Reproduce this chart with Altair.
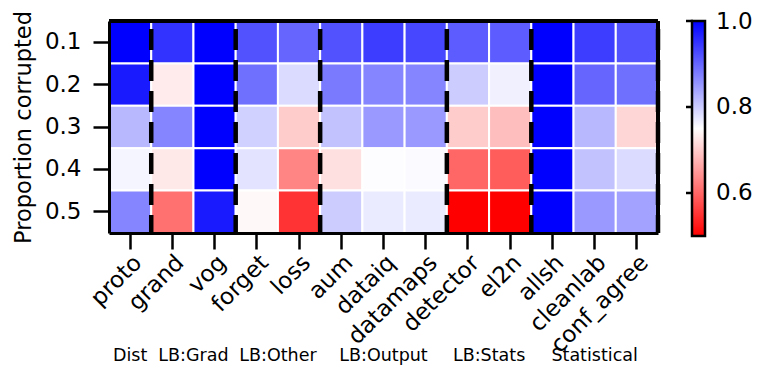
import altair as alt
import pandas as pd

methods = ["proto", "grand", "vog", "forget", "loss", "aum", "dataiq", "datamaps",
           "detector", "el2n", "allsh", "cleanlab", "conf_agree"]
proportions = ["0.1", "0.2", "0.3", "0.4", "0.5"]

row_01 = [1.00, 0.95, 1.00, 0.92, 0.90, 0.92, 0.94, 0.93, 0.91, 0.91, 1.00, 0.94, 0.92]
row_02 = [0.975, 0.73, 1.00, 0.89, 0.785, 0.88, 0.87, 0.87, 0.80, 0.765, 1.00, 0.90, 0.89]
row_03 = [0.82, 0.87, 1.00, 0.795, 0.70, 0.81, 0.85, 0.85, 0.70, 0.686, 1.00, 0.82, 0.71]
row_04 = [0.76, 0.727, 1.00, 0.777, 0.63, 0.72, 0.752, 0.755, 0.60, 0.59, 1.00, 0.81, 0.785]
row_05 = [0.87, 0.61, 0.975, 0.743, 0.55, 0.80, 0.77, 0.77, 0.50, 0.50, 1.00, 0.85, 0.84]
rows = [row_01, row_02, row_03, row_04, row_05]

# group separators (dashed line at right edge of these columns)
separator_after = ["proto", "vog", "loss", "datamaps", "el2n", "conf_agree"]
# group labels: anchor column and band position
group_names = ["Dist", "LB:Grad", "LB:Other", "LB:Output", "LB:Stats", "Statistical"]
group_anchor = ["proto", "vog", "loss", "dataiq", "el2n", "cleanlab"]
group_band = [0.5, 0.0, 0.0, 0.5, 0.0, 0.5]

colorbar_ticks = [0.6, 0.8, 1.0]
color_domain = [0.5, 1.0]

records = []
for p, vals in zip(proportions, rows):
    for m, v in zip(methods, vals):
        records.append({"method": m, "prop": p, "value": v})
df = pd.DataFrame(records)
sep_df = pd.DataFrame({"method": separator_after})
cb_df = pd.DataFrame({"tick": colorbar_ticks})

W, H = 549, 212
CB_LEN = 215
FONT = "DejaVu Sans"
FS = 23

xscale = alt.Scale(domain=methods, paddingInner=0, paddingOuter=0)
yscale = alt.Scale(domain=proportions, paddingInner=0, paddingOuter=0)

heat = alt.Chart(df).mark_rect(stroke="white", strokeWidth=2).encode(
    x=alt.X("method:N", scale=xscale, sort=methods,
            axis=alt.Axis(title=None, labelAngle=-45, labelAlign="right", labelBaseline="top",
                          labelFontSize=FS, labelFont=FONT, labelColor="black",
                          tickSize=16, tickWidth=2.5, tickColor="black",
                          labelPadding=2, domainWidth=3, domainColor="black", zindex=1)),
    y=alt.Y("prop:N", scale=yscale, sort=proportions,
            axis=alt.Axis(title="Proportion corrupted", titleFontSize=22.5, titleFont=FONT,
                          titleFontWeight="normal", titleColor="black", titlePadding=9,
                          labelFontSize=FS, labelFont=FONT, labelColor="black",
                          tickSize=16, tickWidth=2.5, tickColor="black",
                          labelPadding=12, domainWidth=3, domainColor="black", zindex=1)),
    color=alt.Color("value:Q",
                    scale=alt.Scale(domain=[0.5, 0.75, 1.0],
                                    range=["#ff0000", "#ffffff", "#0000ff"],
                                    interpolate="rgb"),
                    legend=alt.Legend(title=None, orient="none", legendX=583, legendY=0,
                                      direction="vertical", gradientLength=CB_LEN,
                                      gradientThickness=13, gradientStrokeColor="black",
                                      gradientStrokeWidth=2.5, values=[0.6, 0.8, 0.998],
                                      format=".1f", labelFontSize=FS, labelFont=FONT,
                                      labelColor="black", labelOffset=11,
                                      labelBaseline="middle", padding=0, labelOverlap=False)),
)

seps = alt.Chart(sep_df).mark_rule(color="black", strokeWidth=4.5,
                                   strokeDash=[21, 10], strokeDashOffset=23).encode(
    x=alt.X("method:N", scale=xscale, sort=methods, bandPosition=1),
)

grp_df = pd.DataFrame({"name": group_names, "method": group_anchor, "band": group_band})
group_layers = []
for name, anchor, band in zip(group_names, group_anchor, group_band):
    group_layers.append(
        alt.Chart(grp_df[grp_df["name"] == name]).mark_text(
            fontSize=17.5, font=FONT, color="black", baseline="middle", align="center"
        ).encode(
            x=alt.X("method:N", scale=xscale, sort=methods, bandPosition=band),
            y=alt.value(H + 123),
            text="name:N",
        )
    )

# top/right frame
frame_top = alt.Chart(df).mark_rule(color="black", strokeWidth=3).encode(
    x=alt.value(0), x2=alt.value(W), y=alt.value(0))
frame_right = alt.Chart(df).mark_rule(color="black", strokeWidth=3).encode(
    x=alt.value(W), y=alt.value(0), y2=alt.value(H))

# colorbar tick marks (on the left side of the colorbar)
cb_ticks = alt.Chart(cb_df).mark_rule(color="black", strokeWidth=2.5).encode(
    y=alt.Y("tick:Q", scale=alt.Scale(domain=color_domain, range=[CB_LEN, 0]), axis=None),
    x=alt.value(577), x2=alt.value(584),
)

main = alt.layer(heat, seps, *group_layers, frame_top, frame_right)
chart = alt.layer(main, cb_ticks).resolve_scale(y="independent").properties(
    width=W, height=H,
    autosize=alt.AutoSizeParams(type="none"),
    padding={"left": 101, "top": 13, "right": 96, "bottom": 136},
).configure_view(stroke=None).configure(font=FONT, background="white")

chart.save("out.html", embed_options={"renderer": "svg", "actions": False})
